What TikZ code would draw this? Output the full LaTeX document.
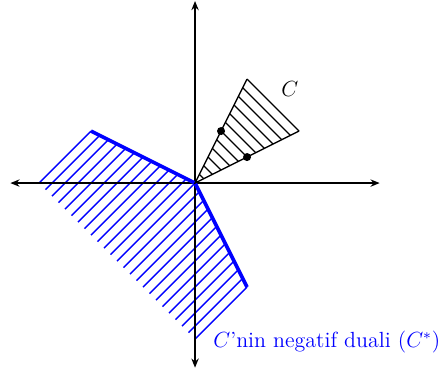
\documentclass[tikz,border=0pt]{standalone}
\usepackage{amsmath}
\usepackage{tikz}
\usetikzlibrary{arrows.meta, positioning, calc}

\begin{document}
\begin{tikzpicture}[>={Stealth[length=5pt,width=4pt]}, x=0.5cm, y=0.5cm, font=\large,
	axis/.style={<->, line width=1pt},
	conehatch/.style={black, line width=0.7pt},
	dualhatch/.style={blue, line width=0.8pt},
	dualedge/.style={blue, line width=2pt}]
	
	\useasboundingbox (-7.5,-7.42) rectangle (9.42,7.04);
	
	% 1. HATCHING OF THE NEGATIVE DUAL (lines x - y = c)
	\foreach \c in {-6,-5.5,...,0}
	\draw[dualhatch] ({(\c-6)/2},{(-6-\c)/2}) -- ({2*\c/3},{-\c/3});
	\foreach \c in {0.5,1,...,6}
	\draw[dualhatch] ({(\c-6)/2},{(-6-\c)/2}) -- ({\c/3},{-2*\c/3});
	
	% 2. AXES
	\draw[axis] (-7.1,0) -- (7.1,0);
	\draw[axis] (0,-7.1) -- (0,7);
	
	% Edges of the negative dual
	\draw[dualedge] (-4,2) -- (0,0) -- (2,-4);
	
	% 3. THE CONE C (generated by (1,2) and (2,1))
	\draw[conehatch] (2,4) -- (0,0) -- (4,2);
	\foreach \c in {0.5,1,...,6}
	\draw[conehatch] ({\c/3},{2*\c/3}) -- ({2*\c/3},{\c/3});
	
	% Generators
	\fill (1,2) circle (2.2pt);
	\fill (2,1) circle (2.2pt);
	
	% Labels
	\node (conelabel) at (3.65,3.6) {$C$};
	\node[blue, anchor=base west, inner sep=0pt] (duallabel) at (0.69,-6.31) {$C$'nin negatif duali $(C^*)$};
	
\end{tikzpicture}
\end{document}
